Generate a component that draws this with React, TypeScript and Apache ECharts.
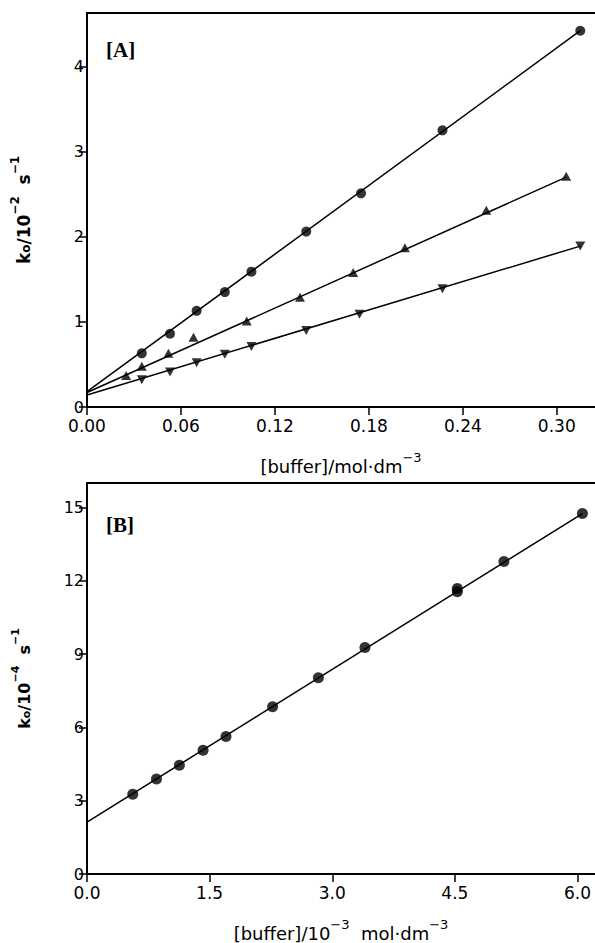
import React, { useEffect, useRef } from "react";
import * as echarts from "echarts";

// Panel A data
const circleX = [0.035, 0.053, 0.070, 0.088, 0.105, 0.140, 0.175, 0.227, 0.315];
const circleY = [0.63, 0.86, 1.13, 1.35, 1.59, 2.06, 2.51, 3.25, 4.42];
const upX = [0.025, 0.035, 0.052, 0.068, 0.102, 0.136, 0.170, 0.203, 0.255, 0.306];
const upY = [0.37, 0.48, 0.63, 0.82, 1.01, 1.29, 1.58, 1.87, 2.31, 2.71];
const downX = [0.035, 0.053, 0.070, 0.088, 0.105, 0.140, 0.174, 0.227, 0.315];
const downY = [0.32, 0.41, 0.52, 0.62, 0.71, 0.90, 1.09, 1.39, 1.89];
const circleFitX = [0, 0.315];
const circleFitY = [0.18, 4.42];
const upFitX = [0, 0.306];
const upFitY = [0.17, 2.70];
const downFitX = [0, 0.315];
const downFitY = [0.14, 1.89];
const aXTicks = [0, 0.06, 0.12, 0.18, 0.24, 0.30];
const aYTicks = [0, 1, 2, 3, 4];

// Panel B data
const bX = [0.56, 0.85, 1.13, 1.42, 1.70, 2.27, 2.83, 3.40, 4.53, 4.53, 5.10, 6.06];
const bY = [3.26, 3.89, 4.45, 5.06, 5.63, 6.84, 8.03, 9.27, 11.55, 11.68, 12.79, 14.75];
const bFitX = [0, 6.06];
const bFitY = [2.12, 14.75];
const bXTicks = [0, 1.5, 3.0, 4.5, 6.0];
const bYTicks = [0, 3, 6, 9, 12, 15];

const FONT = "DejaVu Sans";
const zip = (xs: number[], ys: number[]) => xs.map((x, i) => [x, ys[i]]);

function richStyles(size: number, weight: string = "normal") {
  const sup = Math.round(size * 0.7);
  return {
    t: { fontSize: size, fontFamily: FONT, color: "#000", fontWeight: weight, lineHeight: size + 6, verticalAlign: "bottom" },
    s: { fontSize: sup, fontFamily: FONT, color: "#000", fontWeight: weight, lineHeight: sup + 1, verticalAlign: "top" },
    b: { fontSize: sup, fontFamily: FONT, color: "#000", fontWeight: weight, lineHeight: sup + 1, verticalAlign: "bottom" },
  };
}

function xAxisBase(gridIndex: number, max: number, ticks: number[], dec: number, name: string) {
  return [
    {
      gridIndex,
      type: "value",
      min: 0,
      max,
      position: "bottom",
      axisLine: { show: true, onZero: false, lineStyle: { color: "#000", width: 2 } },
      axisTick: { show: true, inside: false, length: 8, customValues: ticks, lineStyle: { color: "#000", width: 1.5 } },
      axisLabel: {
        customValues: ticks,
        formatter: (v: number) => v.toFixed(dec),
        color: "#000",
        fontSize: 17,
        lineHeight: 14,
        fontFamily: FONT,
        margin: 12,
      },
      splitLine: { show: false },
      name,
      nameLocation: "middle",
      nameGap: 44,
      nameTextStyle: { rich: richStyles(18) },
    },
    {
      gridIndex,
      type: "value",
      min: 0,
      max,
      position: "top",
      axisLine: { show: true, onZero: false, lineStyle: { color: "#000", width: 2 } },
      axisTick: { show: false },
      axisLabel: { show: false },
      splitLine: { show: false },
    },
  ];
}

function yAxisBase(gridIndex: number, max: number, ticks: number[], name: string, size: number) {
  return {
    gridIndex,
    type: "value",
    min: 0,
    max,
    axisLine: { show: true, onZero: false, lineStyle: { color: "#000", width: 2 } },
    axisTick: { show: true, inside: false, length: 8, customValues: ticks, lineStyle: { color: "#000", width: 1.5 } },
    axisLabel: {
      customValues: ticks,
      formatter: (v: number) => String(v),
      color: "#000",
      fontSize: 16,
      lineHeight: 12,
      fontFamily: FONT,
      margin: 3,
    },
    splitLine: { show: false },
    name,
    nameLocation: "middle",
    nameRotate: 90,
    nameGap: 55,
    nameTextStyle: { rich: richStyles(size, "bold") },
  };
}

export default function App() {
  const ref = useRef<HTMLDivElement>(null);
  useEffect(() => {
    if (!ref.current) return;
    const chart = echarts.init(ref.current, null, { renderer: "svg" });
    const lineStyle = { color: "#000", width: 1.5 };
    chart.setOption({
      animation: false,
      backgroundColor: "#fff",
      grid: [
        { left: 87, top: 13, width: 508, height: 394 },
        { left: 87, top: 483, width: 508, height: 395 },
      ],
      xAxis: [
        ...xAxisBase(0, 0.3244, aXTicks, 2, "{t|[buffer]/mol·dm}{s|−3}"),
        ...xAxisBase(1, 6.214, bXTicks, 1, "{t|[buffer]/10}{s|−3}{t|  mol·dm}{s|−3}"),
      ],
      yAxis: [
        yAxisBase(0, 4.628, aYTicks, "{t|k}{b|o}{t|/10}{s|−2}{t|  s}{s|−1}", 17),
        yAxisBase(1, 16, bYTicks, "{t|k}{b|o}{t|/10}{s|−4}{t|  s}{s|−1}", 16),
      ],
      graphic: [
        { type: "text", left: 106, top: 39, style: { text: "[A]", font: 'bold 21px "Liberation Serif"', fill: "#000" } },
        { type: "text", left: 106, top: 514, style: { text: "[B]", font: 'bold 21px "Liberation Serif"', fill: "#000" } },
      ],
      series: [
        { type: "line", xAxisIndex: 0, yAxisIndex: 0, data: zip(circleFitX, circleFitY), symbol: "none", lineStyle, z: 1 },
        { type: "line", xAxisIndex: 0, yAxisIndex: 0, data: zip(upFitX, upFitY), symbol: "none", lineStyle, z: 1 },
        { type: "line", xAxisIndex: 0, yAxisIndex: 0, data: zip(downFitX, downFitY), symbol: "none", lineStyle, z: 1 },
        { type: "scatter", xAxisIndex: 0, yAxisIndex: 0, data: zip(circleX, circleY), symbol: "circle", symbolSize: 10, itemStyle: { color: "#000" }, z: 3 },
        { type: "scatter", xAxisIndex: 0, yAxisIndex: 0, data: zip(upX, upY), symbol: "triangle", symbolSize: [10, 9], itemStyle: { color: "#000" }, z: 3 },
        { type: "scatter", xAxisIndex: 0, yAxisIndex: 0, data: zip(downX, downY), symbol: "triangle", symbolRotate: 180, symbolSize: [10, 9], itemStyle: { color: "#000" }, z: 3 },
        { type: "line", xAxisIndex: 2, yAxisIndex: 1, data: zip(bFitX, bFitY), symbol: "none", lineStyle, z: 1 },
        { type: "scatter", xAxisIndex: 2, yAxisIndex: 1, data: zip(bX, bY), symbol: "circle", symbolSize: 11, itemStyle: { color: "#000" }, z: 3 },
      ],
    });
    return () => chart.dispose();
  }, []);
  return (
    <div
      ref={ref}
      style={{ position: "absolute", left: 0, top: 0, width: 595, height: 943, background: "#fff" }}
    />
  );
}
